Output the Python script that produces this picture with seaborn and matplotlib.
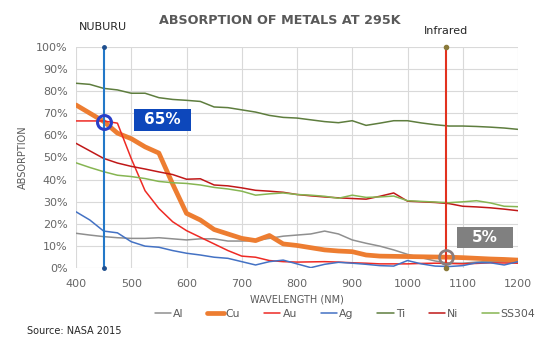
import numpy as np
import pandas as pd
import matplotlib
matplotlib.use("Agg")
import matplotlib.pyplot as plt
from matplotlib.lines import Line2D
from matplotlib.patches import Rectangle
from matplotlib.ticker import FuncFormatter
import seaborn as sns

# ---------------- data ----------------
wavelength = list(range(400, 1201, 25))

al = [15.8, 15.0, 14.3, 13.8, 13.5, 13.5, 13.8, 13.3, 12.8, 13.3, 13.3, 12.3, 12.3,
      12.5, 13.5, 14.5, 15.0, 15.5, 16.8, 15.5, 12.8, 11.3, 10.0, 8.3, 6.3, 4.8, 3.3,
      2.3, 2.3, 2.8, 3.2, 3.0, 2.8]
cu = [73.7, 70.0, 66.3, 61.0, 58.5, 54.8, 52.0, 38.0, 24.8, 21.8, 17.5, 15.5, 13.5,
      12.5, 14.8, 11.0, 10.3, 9.3, 8.3, 7.8, 7.5, 6.0, 5.5, 5.4, 5.3, 5.2, 5.1,
      5.0, 4.8, 4.5, 4.2, 4.0, 3.7]
au = [66.5, 66.5, 66.5, 65.5, 49.5, 35.0, 27.0, 21.0, 17.0, 14.0, 11.0, 8.0, 5.5,
      5.0, 3.5, 3.0, 2.8, 2.9, 3.0, 2.8, 2.5, 2.3, 2.0, 2.0, 2.0, 2.2, 2.3,
      2.2, 2.0, 2.2, 2.5, 2.4, 2.3]
ag = [25.5, 21.8, 16.8, 16.0, 12.0, 10.0, 9.5, 8.0, 6.8, 6.0, 5.0, 4.5, 3.0,
      1.5, 3.0, 3.7, 2.0, 0.3, 1.8, 2.7, 2.3, 1.8, 1.2, 1.0, 3.5, 2.0, 1.0,
      0.8, 1.2, 2.5, 2.5, 1.5, 3.0]
ti = [83.5, 83.0, 81.2, 80.5, 79.0, 79.0, 77.0, 76.2, 75.8, 75.3, 72.8, 72.5, 71.5,
      70.5, 69.0, 68.1, 67.8, 67.0, 66.2, 65.7, 66.6, 64.5, 65.5, 66.6, 66.6, 65.6, 64.8,
      64.2, 64.2, 64.0, 63.7, 63.3, 62.7]
ni = [56.4, 53.0, 49.6, 47.5, 46.0, 44.8, 43.5, 42.3, 40.2, 40.4, 37.6, 37.2, 36.3,
      35.2, 34.8, 34.3, 33.3, 32.7, 32.2, 31.8, 31.5, 31.2, 32.5, 34.0, 30.3, 30.0, 29.7,
      29.2, 28.0, 27.7, 27.3, 26.7, 26.0]
ss304 = [47.6, 45.5, 43.6, 42.0, 41.4, 40.5, 39.2, 38.6, 38.3, 37.6, 36.5, 35.8, 34.8,
         33.0, 33.6, 34.0, 33.3, 33.0, 32.5, 31.6, 33.0, 32.0, 32.2, 32.6, 30.5, 30.2, 29.9,
         29.6, 30.0, 30.5, 29.5, 28.0, 27.8]

metals = ["Al", "Cu", "Au", "Ag", "Ti", "Ni", "SS304"]
series = [al, cu, au, ag, ti, ni, ss304]

x_ticks = [400, 500, 600, 700, 800, 900, 1000, 1100, 1200]
y_ticks = [0, 10, 20, 30, 40, 50, 60, 70, 80, 90, 100]

nuburu_wl = 450
nuburu_val = 66
nuburu_label = "65%"
ir_wl = 1070
ir_val = 5
ir_label = "5%"

# ---------------- styling ----------------
colors = {"Al": "#8f8f8f", "Cu": "#ed7d31", "Au": "#ee2a24", "Ag": "#4472c4",
          "Ti": "#5e7d3e", "Ni": "#c01818", "SS304": "#86b552"}
widths = {"Al": 1.1, "Cu": 3.4, "Au": 1.1, "Ag": 1.1, "Ti": 1.1, "Ni": 1.1, "SS304": 1.1}

df = pd.concat([pd.DataFrame({"wavelength": wavelength, "absorption": v, "metal": m})
                for m, v in zip(metals, series)], ignore_index=True)

sns.set_style("white")
plt.rcParams["font.family"] = ["DejaVu Sans"]

fig = plt.figure(figsize=(5.54, 3.37), dpi=100)
ax = fig.add_axes([76 / 554, 1 - 268.3 / 337, (518 - 76) / 554, (268.3 - 46.7) / 337])

for m in metals:
    sns.lineplot(data=df[df.metal == m], x="wavelength", y="absorption",
                 color=colors[m], linewidth=widths[m], ax=ax, legend=False,
                 zorder=3)

ax.set_xlim(400, 1200)
ax.set_ylim(0, 100)
ax.set_xticks(x_ticks)
ax.set_yticks(y_ticks)
ax.yaxis.set_major_formatter(FuncFormatter(lambda v, p: f"{int(v)}%"))
ax.grid(True, color="#d9d9d9", linewidth=0.8)
for s in ax.spines.values():
    s.set_visible(False)
ax.tick_params(axis="both", length=0, labelsize=8, labelcolor="#666666")
ax.tick_params(axis="x", pad=8)
ax.tick_params(axis="y", pad=6)
ax.set_xlabel("WAVELENGTH (NM)", fontsize=7, color="#595959", labelpad=4)
ax.set_ylabel("ABSORPTION", fontsize=7, color="#595959", labelpad=6)

# vertical marker lines
ax.plot([nuburu_wl, nuburu_wl], [0, 100], color="#2378c8", linewidth=1.5,
        zorder=5, clip_on=False)
ax.plot([nuburu_wl, nuburu_wl], [0, 100], linestyle="none", marker="o",
        markersize=2.5, color="#1f4f8f", zorder=6, clip_on=False)
ax.plot([ir_wl, ir_wl], [0, 100], color="#e2321f", linewidth=1.5,
        zorder=5, clip_on=False)
ax.plot([ir_wl, ir_wl], [0, 100], linestyle="none", marker="o",
        markersize=3, color="#8a7a3a", zorder=6, clip_on=False)

ax.plot([nuburu_wl], [nuburu_val], marker="o", markersize=10, markerfacecolor="none",
        markeredgecolor="#2a3fc8", markeredgewidth=2.2, zorder=7)
ax.plot([ir_wl], [ir_val], marker="o", markersize=10, markerfacecolor="none",
        markeredgecolor="#8a7d7d", markeredgewidth=2.0, zorder=7)

# value boxes
ax.add_patch(Rectangle((505, 62.1), 104, 9.8, facecolor="#0d47bb",
                       edgecolor="none", zorder=8))
ax.text(557, 67, nuburu_label, color="white", fontsize=11, fontweight="bold",
        ha="center", va="center", zorder=9)
ax.add_patch(Rectangle((1089, 9.0), 102, 9.5, facecolor="#808080",
                       edgecolor="none", zorder=8))
ax.text(1140, 13.7, ir_label, color="white", fontsize=11, fontweight="bold",
        ha="center", va="center", zorder=9)

# texts
fig.text(280 / 554, 1 - 20 / 337, "ABSORPTION OF METALS AT 295K", fontsize=9.2,
         fontweight="bold", color="#595959", ha="center", va="center")
fig.text(103 / 554, 1 - 27 / 337, "NUBURU", fontsize=8, color="#262626",
         ha="center", va="center")
fig.text(446 / 554, 1 - 31 / 337, "Infrared", fontsize=8, color="#262626",
         ha="center", va="center")
fig.text(27 / 554, 1 - 331 / 337, "Source: NASA 2015", fontsize=7, color="#262626",
         ha="left", va="center")

handles = [Line2D([0], [0], color=colors[m], linewidth=widths[m]) for m in metals]
fig.legend(handles, metals, loc="center", bbox_to_anchor=(345 / 554, 1 - 314 / 337),
           ncol=7, frameon=False, fontsize=7.8, handlelength=1.5, handletextpad=0.2,
           columnspacing=2.2, labelcolor="#595959")

fig.savefig("out.png", dpi=100, facecolor="white")
